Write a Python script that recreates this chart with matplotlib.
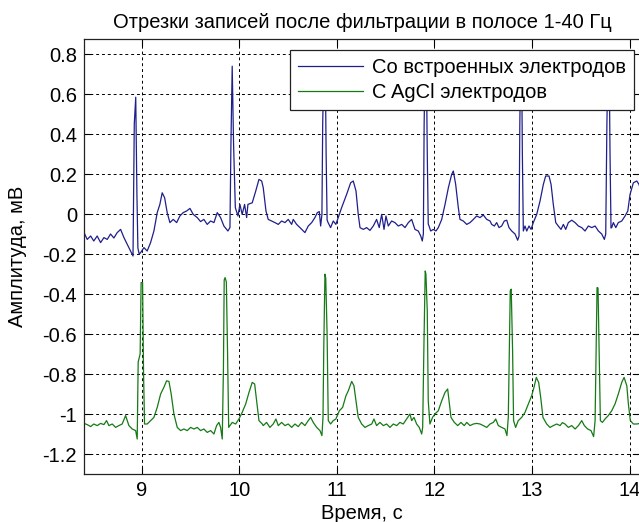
import matplotlib
matplotlib.use("Agg")
import matplotlib.pyplot as plt

plt.rcParams['font.family'] = ['Liberation Sans', 'DejaVu Sans']

title = "Отрезки записей после фильтрации в полосе 1-40 Гц"
xlabel = "Время, с"
ylabel = "Амплитуда, мВ"
legend_labels = ["Со встроенных электродов", "С AgCl электродов"]
xticks = [9, 10, 11, 12, 13, 14]
yticks = [-1.2, -1.0, -0.8, -0.6, -0.4, -0.2, 0.0, 0.2, 0.4, 0.6, 0.8]
ytick_labels = ["-1.2", "-1", "-0.8", "-0.6", "-0.4", "-0.2", "0", "0.2", "0.4", "0.6", "0.8"]

# Built-in electrodes (blue)
blue_t = [8.41, 8.443, 8.478, 8.51, 8.545, 8.58, 8.614, 8.648, 8.682, 8.716, 8.75, 8.785, 8.819, 8.87, 8.912,
          8.925, 8.94, 8.952, 8.962, 8.975, 8.99, 9.024, 9.057, 9.092, 9.126, 9.16, 9.187, 9.211, 9.236, 9.262,
          9.29, 9.324, 9.359, 9.392, 9.426, 9.461, 9.495, 9.529, 9.57, 9.604, 9.638, 9.672, 9.707, 9.741, 9.775,
          9.809, 9.843, 9.884, 9.905, 9.915, 9.928, 9.942, 9.96, 9.987, 10.007, 10.03, 10.055, 10.076, 10.089,
          10.133, 10.168, 10.202, 10.23, 10.246, 10.274, 10.297, 10.332, 10.366, 10.4, 10.434, 10.468, 10.502,
          10.537, 10.553, 10.588, 10.622, 10.656, 10.673, 10.707, 10.742, 10.775, 10.8, 10.82, 10.834, 10.847,
          10.855, 10.865, 10.882, 10.89, 10.9, 10.91, 10.936, 10.963, 10.99, 11.014, 11.049, 11.1, 11.141, 11.168,
          11.196, 11.219, 11.237, 11.271, 11.305, 11.339, 11.373, 11.407, 11.434, 11.459, 11.483, 11.503, 11.527,
          11.561, 11.595, 11.629, 11.664, 11.698, 11.732, 11.766, 11.8, 11.834, 11.859, 11.875, 11.886, 11.894,
          11.902, 11.918, 11.926, 11.936, 11.944, 11.961, 11.988, 12.015, 12.039, 12.074, 12.108, 12.142, 12.176,
          12.193, 12.217, 12.244, 12.261, 12.295, 12.33, 12.364, 12.398, 12.432, 12.466, 12.5, 12.535, 12.569,
          12.586, 12.613, 12.637, 12.661, 12.688, 12.715, 12.74, 12.763, 12.791, 12.825, 12.852, 12.866, 12.874,
          12.882, 12.893, 12.9, 12.91, 12.927, 12.945, 12.968, 12.989, 13.012, 13.047, 13.081, 13.115, 13.139,
          13.173, 13.194, 13.217, 13.242, 13.268, 13.296, 13.32, 13.344, 13.371, 13.406, 13.44, 13.474, 13.508,
          13.542, 13.576, 13.611, 13.645, 13.679, 13.713, 13.74, 13.754, 13.766, 13.775, 13.79, 13.798, 13.808,
          13.815, 13.832, 13.857, 13.883, 13.918, 13.952, 13.98, 14.003, 14.037, 14.072, 14.095, 14.11]
blue_v = [-0.093, -0.127, -0.11, -0.135, -0.11, -0.143, -0.118, -0.127, -0.10, -0.12, -0.093, -0.077, -0.118, -0.168, -0.21,
          0.45, 0.584, 0.1, -0.17, -0.2, -0.193, -0.168, -0.185, -0.143, -0.085, 0.007, 0.048, 0.106, 0.081, 0.007,
          -0.043, -0.027, -0.043, -0.01, 0.007, 0.015, 0.028, -0.002, -0.018, -0.038, -0.027, -0.052, -0.035, -0.043, 0.007,
          -0.018, -0.06, -0.085, -0.068, 0.35, 0.739, 0.35, 0.032, -0.01, 0.048, -0.002, 0.048, -0.018, 0.048,
          0.056, 0.113, 0.173, 0.165, 0.131, 0.015, -0.027, -0.035, -0.043, -0.052, -0.035, -0.043, -0.027,
          -0.052, -0.027, -0.052, -0.068, -0.085, -0.093, -0.06, -0.043, -0.018, 0.007, 0.012, -0.06, -0.002,
          0.45, 0.72, 0.72, 0.3, -0.03, -0.043, -0.068, -0.035, -0.052, -0.018, 0.032, 0.098, 0.156, 0.165,
          0.115, -0.002, -0.068, -0.077, -0.068, -0.082, -0.06, -0.027, -0.068, -0.002, -0.077, -0.01, -0.06,
          -0.035, -0.043, -0.06, -0.052, -0.068, -0.043, -0.027, -0.077, -0.085, -0.11, -0.135, -0.10, 0.45,
          0.70, 0.70, 0.3, -0.05, -0.06, -0.085, -0.077, -0.085, -0.068, -0.027, 0.048, 0.131, 0.198,
          0.215, 0.148, 0.032, -0.027, -0.035, -0.052, -0.043, -0.027, -0.01, -0.018, -0.005, -0.027, -0.035,
          -0.052, -0.06, -0.043, -0.068, -0.06, -0.035, -0.031, -0.068, -0.085, -0.10, -0.131, -0.11, 0.45,
          0.74, 0.74, 0.3, -0.085, -0.06, -0.085, -0.06, -0.077, -0.043, -0.002, 0.065, 0.148, 0.19,
          0.19, 0.148, 0.048, -0.043, -0.06, -0.077, -0.052, -0.077, -0.043, -0.031, -0.043, -0.06, -0.068,
          -0.085, -0.06, -0.068, -0.06, -0.085, -0.10, -0.127, -0.10, 0.45, 0.72, 0.72, 0.3, -0.07,
          -0.068, -0.043, -0.068, -0.043, -0.035, -0.01, 0.015, 0.098, 0.156, 0.165, 0.148, 0.12]

# AgCl electrodes (green)
green_t = [8.41, 8.443, 8.478, 8.51, 8.545, 8.58, 8.614, 8.641, 8.665, 8.699, 8.734, 8.767, 8.801, 8.836, 8.87,
           8.904, 8.939, 8.955, 8.965, 8.985, 8.995, 9.01, 9.02, 9.03, 9.057, 9.092, 9.126, 9.16, 9.195, 9.228,
           9.256, 9.28, 9.303, 9.331, 9.365, 9.4, 9.433, 9.467, 9.502, 9.536, 9.57, 9.604, 9.638, 9.672, 9.707,
           9.741, 9.768, 9.792, 9.809, 9.826, 9.838, 9.846, 9.855, 9.868, 9.88, 9.892, 9.928, 9.963, 9.997,
           10.03, 10.066, 10.1, 10.133, 10.158, 10.178, 10.202, 10.236, 10.246, 10.28, 10.314, 10.348, 10.376,
           10.4, 10.434, 10.468, 10.502, 10.537, 10.571, 10.604, 10.639, 10.673, 10.707, 10.732, 10.758, 10.793,
           10.827, 10.847, 10.858, 10.866, 10.878, 10.886, 10.9, 10.912, 10.936, 10.963, 10.99, 11.025, 11.059,
           11.093, 11.117, 11.152, 11.175, 11.196, 11.219, 11.254, 11.288, 11.322, 11.357, 11.38, 11.407, 11.441,
           11.476, 11.51, 11.544, 11.578, 11.613, 11.646, 11.68, 11.715, 11.749, 11.766, 11.79, 11.817, 11.844,
           11.869, 11.879, 11.892, 11.905, 11.912, 11.926, 11.936, 11.953, 11.98, 12.004, 12.039, 12.074, 12.108,
           12.135, 12.149, 12.169, 12.203, 12.238, 12.271, 12.305, 12.33, 12.364, 12.398, 12.432, 12.466, 12.5,
           12.535, 12.569, 12.603, 12.627, 12.654, 12.688, 12.722, 12.742, 12.756, 12.766, 12.776, 12.786, 12.8,
           12.81, 12.831, 12.858, 12.893, 12.927, 12.961, 12.995, 13.019, 13.043, 13.067, 13.088, 13.111, 13.149,
           13.183, 13.217, 13.252, 13.286, 13.31, 13.337, 13.371, 13.406, 13.44, 13.474, 13.508, 13.535, 13.569,
           13.603, 13.63, 13.645, 13.655, 13.665, 13.675, 13.686, 13.699, 13.72, 13.747, 13.78, 13.815, 13.849,
           13.883, 13.918, 13.942, 13.97, 13.986, 14.006, 14.037, 14.072, 14.106]
green_v = [-1.047, -1.053, -1.063, -1.05, -1.058, -1.047, -1.053, -1.033, -1.058, -1.05, -1.067, -1.058, -1.05, -1.008, -1.058,
           -1.075, -1.083, -1.125, -0.74, -0.70, -0.343, -0.343, -0.8, -1.05, -1.05, -1.033, -1.017, -0.967, -0.90, -0.867,
           -0.834, -0.837, -0.90, -1.0, -1.067, -1.083, -1.075, -1.083, -1.067, -1.075, -1.067, -1.083, -1.075, -1.092, -1.083,
           -1.10, -1.058, -1.042, -1.067, -1.125, -0.78, -0.33, -0.318, -0.34, -0.68, -1.067, -1.042, -1.05, -1.025,
           -0.992, -0.95, -0.892, -0.842, -0.85, -0.934, -1.033, -1.05, -1.058, -1.042, -1.067, -1.05, -1.025,
           -1.058, -1.042, -1.058, -1.05, -1.067, -1.05, -1.063, -1.042, -1.058, -1.033, -1.017, -1.042, -1.067,
           -1.083, -1.108, -1.017, -0.667, -0.301, -0.32, -0.6, -1.033, -1.05, -1.033, -1.025, -0.984, -0.967,
           -0.909, -0.884, -0.837, -0.859, -0.934, -1.017, -1.05, -1.067, -1.058, -1.05, -1.025, -1.058, -1.042,
           -1.058, -1.05, -1.067, -1.05, -1.058, -1.042, -1.05, -1.025, -1.0, -1.033, -1.017, -1.05, -1.067,
           -1.10, -1.067, -0.651, -0.285, -0.30, -0.484, -0.934, -1.05, -1.017, -1.0, -0.984, -0.934, -0.892,
           -0.875, -0.934, -1.017, -1.042, -1.058, -1.042, -1.058, -1.042, -1.058, -1.05, -1.047, -1.05, -1.058,
           -1.067, -1.05, -1.042, -1.025, -1.058, -1.067, -1.075, -1.108, -1.017, -0.684, -0.384, -0.376, -0.684,
           -1.033, -1.067, -1.033, -1.017, -0.992, -0.95, -0.909, -0.867, -0.817, -0.842, -0.917, -1.017, -1.05,
           -1.067, -1.058, -1.05, -1.058, -1.043, -1.05, -1.067, -1.058, -1.075, -1.058, -1.033, -1.058, -1.075,
           -1.083, -1.113, -1.033, -0.717, -0.368, -0.37, -0.667, -1.033, -1.042, -1.025, -1.008, -0.984, -0.95,
           -0.90, -0.842, -0.817, -0.859, -0.95, -1.033, -1.05, -1.05, -1.047]

W, H = 639, 522
fig = plt.figure(figsize=(W / 100, H / 100), dpi=100)
ax = fig.add_axes([84 / W, (H - 474) / H, 556 / W, 435 / H])

ax.plot(blue_t, blue_v, color='#1f1f8c', lw=0.9, label=legend_labels[0])
ax.plot(green_t, green_v, color='#157a15', lw=0.9, label=legend_labels[1])

ax.set_xlim(8.41, 14.105)
ax.set_ylim(-1.3, 0.875)
ax.set_xticks(xticks)
ax.set_xticklabels([str(x) for x in xticks])
ax.set_yticks(yticks)
ax.set_yticklabels(ytick_labels)
ax.tick_params(direction='in', length=5, width=0.8, top=True, right=True, labelsize=14.5, pad=5)
ax.grid(True, color='black', linestyle=(0, (3, 3)), linewidth=0.7)
for s in ax.spines.values():
    s.set_linewidth(0.9)
    s.set_color('#222222')

ax.set_xlabel(xlabel, fontsize=14.5, labelpad=3)
ax.set_ylabel(ylabel, fontsize=14.5)
ax.yaxis.set_label_coords((27 - 84) / 556, 0.5)
ax.set_title(title, fontsize=14.5, pad=8)

leg = ax.legend(loc='upper right', bbox_to_anchor=(634 / W, 1 - 50 / H), bbox_transform=fig.transFigure,
                fontsize=14.5, frameon=True, fancybox=False, framealpha=1, edgecolor='#222222',
                handlelength=3.2, handletextpad=0.45, borderpad=0.4, labelspacing=0.3, borderaxespad=0)
leg.get_frame().set_linewidth(0.9)

fig.savefig('out.png', dpi=100)
